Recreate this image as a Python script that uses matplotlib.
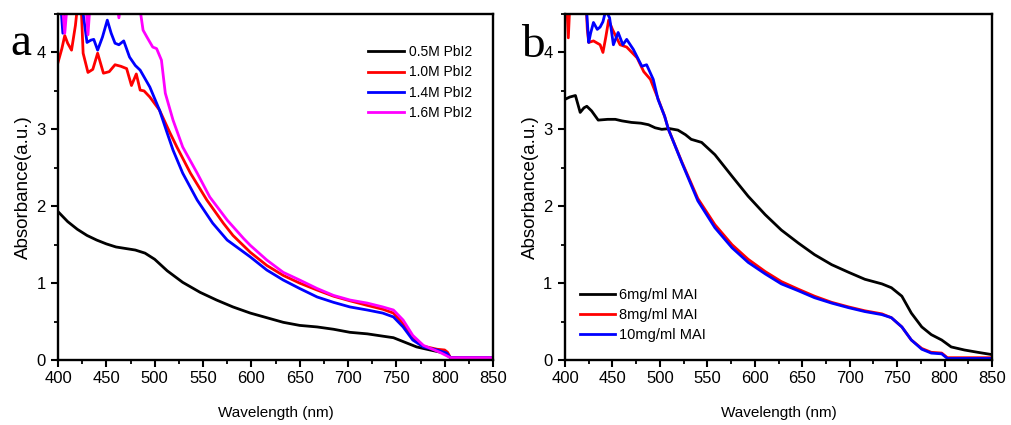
import matplotlib
matplotlib.use("Agg")
import matplotlib.pyplot as plt
from matplotlib.ticker import MultipleLocator

plt.rcParams['font.family'] = ['Liberation Sans', 'DejaVu Sans']

# ---- panel a: PbI2 concentration ----
wl_a_05 = [400, 410, 420, 430, 440, 450, 460, 470, 480, 490, 500, 513, 529, 547, 564, 581,
           599, 616, 633, 650, 668, 685, 702, 720, 736, 747, 757, 771, 785, 800, 806, 820, 850]
abs_a_05 = [1.93, 1.80, 1.70, 1.62, 1.56, 1.51, 1.47, 1.45, 1.43, 1.39, 1.31, 1.16, 1.01, 0.88,
            0.78, 0.69, 0.61, 0.55, 0.49, 0.45, 0.43, 0.40, 0.36, 0.34, 0.31, 0.29, 0.24, 0.17,
            0.13, 0.09, 0.03, 0.02, 0.02]

wl_a_10 = [400, 404, 407, 410, 414, 418, 421, 424, 426, 431, 436, 441, 447, 453, 459, 465, 471,
           476, 481, 485, 489, 495, 505, 516, 523, 537, 554, 571, 581, 599, 616, 633, 650, 668,
           685, 702, 720, 736, 747, 757, 767, 778, 792, 800, 803, 806, 820, 850]
abs_a_10 = [3.87, 4.05, 4.22, 4.12, 4.03, 4.35, 4.70, 4.60, 3.99, 3.74, 3.78, 3.99, 3.73, 3.75,
            3.84, 3.82, 3.79, 3.57, 3.72, 3.51, 3.50, 3.42, 3.25, 2.95, 2.77, 2.43, 2.08, 1.78,
            1.62, 1.40, 1.23, 1.10, 1.00, 0.91, 0.83, 0.77, 0.71, 0.66, 0.61, 0.47, 0.29, 0.18,
            0.14, 0.13, 0.10, 0.03, 0.03, 0.03]

wl_a_14 = [400, 403, 405, 407, 410, 420, 425, 430, 434, 437, 441, 446, 451, 455, 459, 463, 468,
           474, 480, 485, 495, 505, 513, 519, 529, 544, 560, 575, 599, 616, 633, 650, 668, 685,
           702, 720, 736, 747, 757, 767, 778, 792, 802, 806, 820, 850]
abs_a_14 = [4.70, 4.60, 4.25, 4.60, 4.70, 4.70, 4.60, 4.13, 4.16, 4.17, 4.03, 4.20, 4.42, 4.25,
            4.12, 4.10, 4.15, 3.94, 3.83, 3.77, 3.55, 3.25, 2.95, 2.73, 2.43, 2.08, 1.78, 1.56,
            1.34, 1.17, 1.04, 0.93, 0.82, 0.75, 0.69, 0.65, 0.61, 0.56, 0.43, 0.26, 0.17, 0.13,
            0.09, 0.03, 0.03, 0.03]

wl_a_16 = [400, 404, 407, 410, 425, 429, 431, 433, 436, 460, 463, 466, 480, 485, 488, 492, 498,
           502, 507, 511, 519, 529, 544, 557, 575, 592, 599, 616, 633, 650, 668, 685, 702, 720,
           736, 747, 757, 767, 778, 795, 806, 820, 850]
abs_a_16 = [4.70, 4.70, 4.25, 4.70, 4.70, 4.60, 4.23, 4.60, 4.70, 4.70, 4.45, 4.70, 4.70, 4.55,
            4.29, 4.20, 4.07, 4.05, 3.90, 3.47, 3.12, 2.77, 2.43, 2.12, 1.82, 1.58, 1.49, 1.30,
            1.14, 1.04, 0.93, 0.84, 0.78, 0.74, 0.69, 0.65, 0.52, 0.32, 0.19, 0.10, 0.03, 0.03,
            0.03]

labels_a = ["0.5M PbI2", "1.0M PbI2", "1.4M PbI2", "1.6M PbI2"]

# ---- panel b: MAI concentration ----
wl_b_6 = [400, 405, 411, 416, 420, 423, 428, 435, 445, 453, 460, 470, 480, 488, 495, 502, 510,
          519, 527, 533, 544, 558, 576, 593, 611, 628, 646, 663, 681, 699, 716, 734, 744, 755,
          765, 776, 786, 797, 807, 821, 835, 850]
abs_b_6 = [3.39, 3.42, 3.44, 3.22, 3.28, 3.30, 3.24, 3.12, 3.13, 3.13, 3.11, 3.09, 3.08, 3.06,
           3.02, 3.00, 3.01, 2.99, 2.93, 2.87, 2.83, 2.67, 2.39, 2.13, 1.89, 1.69, 1.52, 1.37,
           1.24, 1.14, 1.05, 0.99, 0.94, 0.83, 0.61, 0.43, 0.33, 0.26, 0.17, 0.13, 0.10, 0.07]

wl_b_8 = [400, 402, 403.5, 405, 407, 422, 423.5, 425, 430, 437, 440, 443, 446, 450, 454, 458,
          465, 476, 483, 490, 498, 505, 509, 523, 540, 558, 576, 593, 611, 628, 646, 663, 681,
          699, 716, 734, 744, 755, 765, 776, 786, 797, 803, 850]
abs_b_8 = [4.70, 4.60, 4.19, 4.60, 4.70, 4.70, 4.30, 4.13, 4.15, 4.10, 4.00, 4.20, 4.42, 4.30,
           4.20, 4.10, 4.07, 3.93, 3.75, 3.65, 3.40, 3.17, 3.00, 2.58, 2.10, 1.76, 1.50, 1.31,
           1.15, 1.02, 0.92, 0.83, 0.75, 0.69, 0.64, 0.60, 0.55, 0.43, 0.26, 0.15, 0.10, 0.09,
           0.03, 0.03]

wl_b_10 = [400, 422, 423.5, 425, 427, 430, 434, 437, 440, 443, 447, 451, 456, 461, 465, 472,
           481, 486, 493, 498, 505, 509, 523, 540, 558, 576, 593, 611, 628, 646, 663, 681, 699,
           716, 734, 744, 755, 765, 776, 786, 797, 803, 850]
abs_b_10 = [4.70, 4.70, 4.40, 4.13, 4.25, 4.39, 4.30, 4.33, 4.40, 4.55, 4.45, 4.10, 4.26, 4.10,
            4.17, 4.04, 3.82, 3.84, 3.65, 3.39, 3.17, 3.00, 2.57, 2.07, 1.72, 1.46, 1.27, 1.12,
            0.99, 0.90, 0.81, 0.74, 0.68, 0.63, 0.59, 0.55, 0.43, 0.26, 0.14, 0.09, 0.08, 0.02,
            0.02]

labels_b = ["6mg/ml MAI", "8mg/ml MAI", "10mg/ml MAI"]


def style_axes(ax):
    ax.set_xlim(400, 850)
    ax.set_ylim(0, 4.5)
    ax.xaxis.set_major_locator(MultipleLocator(50))
    ax.xaxis.set_minor_locator(MultipleLocator(25))
    ax.yaxis.set_major_locator(MultipleLocator(1))
    ax.yaxis.set_minor_locator(MultipleLocator(0.5))
    for s in ax.spines.values():
        s.set_linewidth(1.7)
    ax.tick_params(which='major', direction='out', length=5, width=1.5, labelsize=12)
    ax.tick_params(axis='x', which='major', pad=3)
    ax.tick_params(axis='y', which='major', pad=4)
    ax.tick_params(which='minor', direction='out', length=3, width=1.3)
    ax.set_xlabel("Wavelength (nm)", fontsize=11, labelpad=14)
    ax.set_ylabel("Absorbance(a.u.)", fontsize=13.5, labelpad=3)


fig = plt.figure(figsize=(10.11, 4.25), dpi=100)
ax_a = fig.add_axes([58 / 1011, 65 / 425, 435 / 1011, 346 / 425])
ax_b = fig.add_axes([565 / 1011, 65 / 425, 427 / 1011, 346 / 425])

lw = 2.0
ax_a.plot(wl_a_05, abs_a_05, color='black', lw=lw, label=labels_a[0])
ax_a.plot(wl_a_10, abs_a_10, color='#ff0000', lw=lw, label=labels_a[1])
ax_a.plot(wl_a_14, abs_a_14, color='#0000ff', lw=lw, label=labels_a[2])
ax_a.plot(wl_a_16, abs_a_16, color='#ff00ff', lw=lw, label=labels_a[3])
style_axes(ax_a)
ax_a.legend(loc='upper left', bbox_to_anchor=(0.713, 0.91), frameon=False, fontsize=10,
            handlelength=2.6, handletextpad=0.35, labelspacing=0.45, borderpad=0,
            borderaxespad=0)

ax_b.plot(wl_b_6, abs_b_6, color='black', lw=lw, label=labels_b[0])
ax_b.plot(wl_b_8, abs_b_8, color='#ff0000', lw=lw, label=labels_b[1])
ax_b.plot(wl_b_10, abs_b_10, color='#0000ff', lw=lw, label=labels_b[2])
style_axes(ax_b)
ax_b.legend(loc='upper left', bbox_to_anchor=(0.035, 0.208), frameon=False, fontsize=10.5,
            handlelength=2.4, handletextpad=0.3, labelspacing=0.42, borderpad=0,
            borderaxespad=0)

fig.text(10 / 1011, 1 - 55 / 425, "a", fontsize=34, family='Liberation Serif', va='baseline')
fig.text(521 / 1011, 1 - 57 / 425, "b", fontsize=34, family='Liberation Serif', va='baseline')

fig.savefig("out.png", dpi=100)
